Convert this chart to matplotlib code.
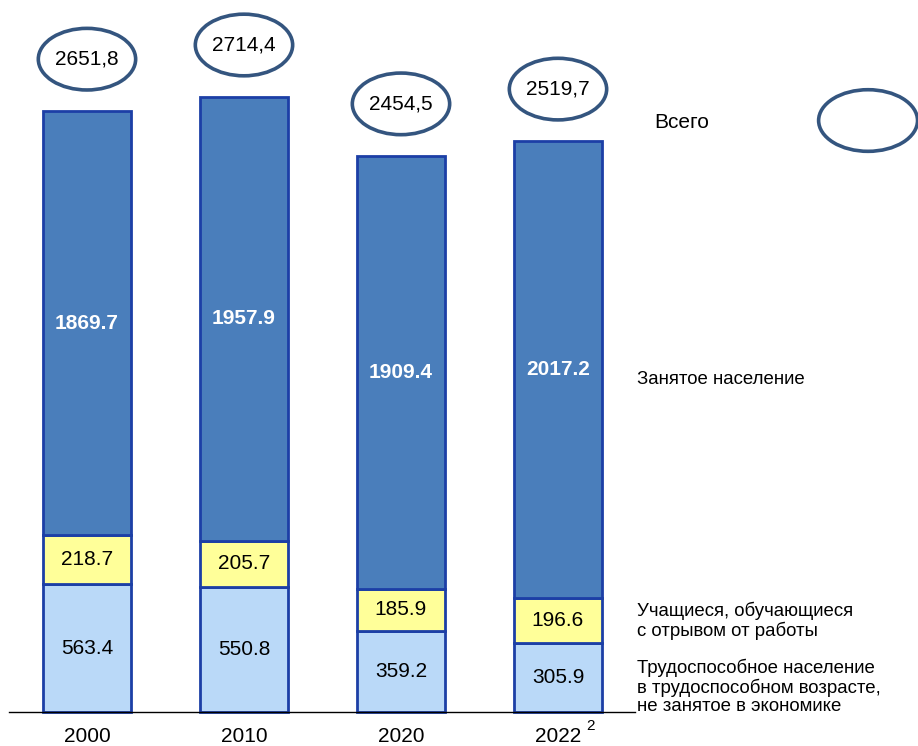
import matplotlib.pyplot as plt
from matplotlib.patches import Ellipse

plt.rcParams['font.family'] = ['Liberation Sans', 'DejaVu Sans']

years = ["2000", "2010", "2020", "2022"]
not_employed = [563.4, 550.8, 359.2, 305.9]
students = [218.7, 205.7, 185.9, 196.6]
employed = [1869.7, 1957.9, 1909.4, 2017.2]
totals = ["2651,8", "2714,4", "2454,5", "2519,7"]

legend_labels = [
    "Всего",
    "Занятое население",
    "Учащиеся, обучающиеся\nс отрывом от работы",
    "Трудоспособное население\nв трудоспособном возрасте,\nне занятое в экономике",
]

c_dark = "#4A7EBB"
c_yellow = "#FFFF99"
c_light = "#BAD9F8"
c_edge = "#1C3FA6"
c_ell = "#34557F"

fig = plt.figure(figsize=(9.18, 7.46), dpi=100)
ax = fig.add_axes([0, 0, 1, 1])
ax.set_xlim(-0.554, 5.293)
ax.set_ylim(-150, 3143)
ax.axis("off")

x = list(range(len(years)))
w = 0.56
b1 = ax.bar(x, not_employed, w, color=c_light, edgecolor=c_edge, linewidth=2)
b2 = ax.bar(x, students, w, bottom=not_employed, color=c_yellow,
            edgecolor=c_edge, linewidth=2)
bottom3 = [a + b for a, b in zip(not_employed, students)]
b3 = ax.bar(x, employed, w, bottom=bottom3, color=c_dark,
            edgecolor=c_edge, linewidth=2)

ax.bar_label(b1, labels=[f"{v:.1f}" for v in not_employed], label_type="center",
             fontsize=15)
ax.bar_label(b2, labels=[f"{v:.1f}" for v in students], label_type="center",
             fontsize=15)
ax.bar_label(b3, labels=[f"{v:.1f}" for v in employed], label_type="center",
             fontsize=15, color="white", fontweight="bold")

# ellipses with totals above bars
for i in x:
    top = bottom3[i] + employed[i]
    cy = top + 230
    ax.add_patch(Ellipse((i, cy), 0.62, 272, fill=False, edgecolor=c_ell,
                         linewidth=2.6))
    ax.text(i, cy, totals[i], ha="center", va="center", fontsize=15)

# year labels
for i in x:
    ax.text(i, -110, years[i], ha="center", va="center", fontsize=15)
ax.text(3.205, -62, "2", ha="center", va="center", fontsize=11)

# baseline
ax.axhline(0, xmin=0.0098, xmax=0.692, color="black", linewidth=1)

# legend-like annotations
ax.add_patch(Ellipse((4.975, 2611), 0.63, 272, fill=False, edgecolor=c_ell,
                     linewidth=2.6, clip_on=False))
lx = 637 / 918
ax.text(654 / 918, 1 - 123 / 746, legend_labels[0], transform=ax.transAxes,
        ha="left", va="center", fontsize=15)
ax.text(lx, 1 - 380 / 746, legend_labels[1], transform=ax.transAxes,
        ha="left", va="center", fontsize=13.4)
ax.text(lx, 1 - 621 / 746, legend_labels[2], transform=ax.transAxes,
        ha="left", va="center", fontsize=13.4, linespacing=1.12)
ax.text(lx, 1 - 687 / 746, legend_labels[3], transform=ax.transAxes,
        ha="left", va="center", fontsize=13.4, linespacing=1.12)

fig.savefig("out.png", dpi=100)
